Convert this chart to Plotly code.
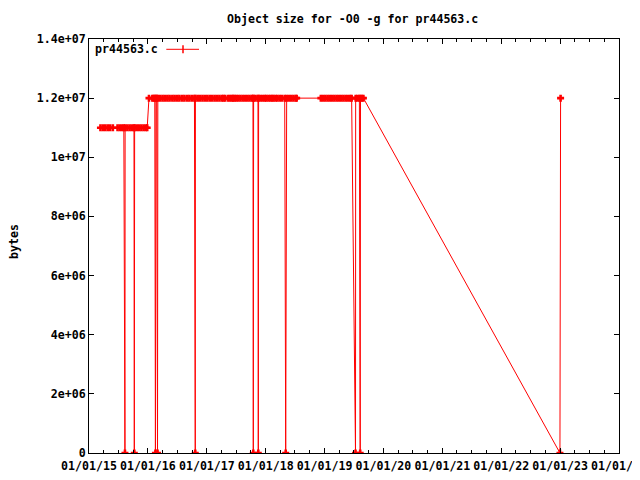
import plotly.graph_objects as go

# ---- data ----
dates = [
    "2015-03-13", "2015-03-28", "2015-04-12", "2015-04-27", "2015-05-12", "2015-05-29",
    "2015-06-27", "2015-07-11", "2015-07-25", "2015-08-05", "2015-08-12", "2015-08-13",
    "2015-08-27", "2015-09-10", "2015-09-24", "2015-10-07", "2015-10-09", "2015-10-11",
    "2015-10-25", "2015-11-08", "2015-11-22", "2015-12-06", "2015-12-20", "2015-12-28",
    "2016-01-08", "2016-01-29", "2016-02-06", "2016-02-13", "2016-02-17", "2016-02-20",
    "2016-02-25", "2016-03-01", "2016-03-03", "2016-03-17", "2016-04-01", "2016-04-15",
    "2016-05-01", "2016-05-15", "2016-06-01", "2016-06-15", "2016-07-01", "2016-07-15",
    "2016-08-01", "2016-08-15", "2016-09-01", "2016-09-15", "2016-10-01", "2016-10-16",
    "2016-10-21", "2016-10-22", "2016-11-05", "2016-11-20", "2016-12-05", "2016-12-20",
    "2017-01-04", "2017-01-19", "2017-02-03", "2017-02-18", "2017-03-05", "2017-03-20",
    "2017-04-04", "2017-04-14", "2017-04-24", "2017-05-12", "2017-05-24", "2017-06-05",
    "2017-06-13", "2017-06-21", "2017-07-02", "2017-07-14", "2017-07-28", "2017-08-11",
    "2017-08-25", "2017-09-08", "2017-09-22", "2017-10-06", "2017-10-14", "2017-10-16",
    "2017-10-18", "2017-10-30", "2017-11-14", "2017-11-16", "2017-11-18", "2017-12-01",
    "2017-12-15", "2017-12-27", "2018-01-05", "2018-01-18", "2018-01-30", "2018-02-10",
    "2018-02-19", "2018-03-04", "2018-03-15", "2018-03-29", "2018-04-12", "2018-04-29",
    "2018-05-05", "2018-05-11", "2018-05-25", "2018-06-08", "2018-06-22", "2018-07-06",
    "2018-07-12", "2018-12-09", "2018-12-23", "2019-01-06", "2019-01-20", "2019-02-03",
    "2019-02-17", "2019-03-03", "2019-03-17", "2019-03-31", "2019-04-14", "2019-04-28",
    "2019-05-12", "2019-05-26", "2019-06-09", "2019-06-18", "2019-07-12", "2019-07-13",
    "2019-07-24", "2019-08-05", "2019-08-10", "2019-08-12", "2019-08-21", "2019-08-30",
    "2022-12-31", "2023-01-04",
]
sizes = [
    1.1e7, 1.1e7, 1.1e7, 1.1e7, 1.1e7, 1.1e7,
    1.1e7, 1.1e7, 1.1e7, 1.1e7, 0, 1.1e7,
    1.1e7, 1.1e7, 1.1e7, 1.1e7, 0, 1.1e7,
    1.1e7, 1.1e7, 1.1e7, 1.1e7, 1.1e7, 1.1e7,
    1.2e7, 1.2e7, 1.2e7, 1.2e7, 0, 1.2e7,
    1.2e7, 0, 1.2e7, 1.2e7, 1.2e7, 1.2e7,
    1.2e7, 1.2e7, 1.2e7, 1.2e7, 1.2e7, 1.2e7,
    1.2e7, 1.2e7, 1.2e7, 1.2e7, 1.2e7, 1.2e7,
    0, 1.2e7, 1.2e7, 1.2e7, 1.2e7, 1.2e7,
    1.2e7, 1.2e7, 1.2e7, 1.2e7, 1.2e7, 1.2e7,
    1.2e7, 1.2e7, 1.2e7, 1.2e7, 1.2e7, 1.2e7,
    1.2e7, 1.2e7, 1.2e7, 1.2e7, 1.2e7, 1.2e7,
    1.2e7, 1.2e7, 1.2e7, 1.2e7, 1.2e7, 0,
    1.2e7, 1.2e7, 1.2e7, 0, 1.2e7, 1.2e7,
    1.2e7, 1.2e7, 1.2e7, 1.2e7, 1.2e7, 1.2e7,
    1.2e7, 1.2e7, 1.2e7, 1.2e7, 1.2e7, 1.2e7,
    0, 1.2e7, 1.2e7, 1.2e7, 1.2e7, 1.2e7,
    1.2e7, 1.2e7, 1.2e7, 1.2e7, 1.2e7, 1.2e7,
    1.2e7, 1.2e7, 1.2e7, 1.2e7, 1.2e7, 1.2e7,
    1.2e7, 1.2e7, 1.2e7, 1.2e7, 0, 1.2e7,
    1.2e7, 1.2e7, 0, 1.2e7, 1.2e7, 1.2e7,
    0, 1.2e7,
]

series_name = "pr44563.c"
title_text = "Object size for -O0 -g for pr44563.c"
y_tick_values = [0, 2e6, 4e6, 6e6, 8e6, 1e7, 1.2e7, 1.4e7]
y_tick_labels = ["0", "2e+06", "4e+06", "6e+06", "8e+06", "1e+07", "1.2e+07", "1.4e+07"]

RED = "#ff0000"
FONT = dict(family="DejaVu Sans Mono", size=11.6, color="black", weight="bold")

fig = go.Figure()
fig.add_trace(go.Scatter(
    x=dates, y=sizes, mode="lines+markers", name=series_name,
    line=dict(color=RED, width=1),
    marker=dict(symbol="cross-thin", size=5, color=RED,
                line=dict(color=RED, width=2.6)),
    showlegend=False,
))

# The page body has an 8px margin, so the figure sits at (8, 8) on screen;
# it is sized so it does not overflow the 640x480 window and the plot box
# lands at x 89..619, y 39..453 on screen.
fig.update_layout(
    width=632, height=472,
    margin=dict(l=81, r=21, t=31, b=27, pad=0, autoexpand=False),
    paper_bgcolor="white", plot_bgcolor="white",
    font=FONT,
    xaxis=dict(
        type="date", range=["2015-01-01", "2024-01-01 06:00"],
        tick0="2015-01-01", dtick="M12", tickformat="%m/%d/%y",
        ticks="inside", ticklen=5, tickcolor="black", tickwidth=1,
        showline=True, linecolor="black", linewidth=1, mirror="ticks",
        showgrid=False, zeroline=False, automargin=False,
        ticklabeloverflow="allow", ticklabelstandoff=2,
        minor=dict(dtick="M3", ticks="inside", ticklen=3, tickcolor="black", showgrid=False),
        tickfont=FONT,
    ),
    yaxis=dict(
        range=[0, 1.4e7], tickvals=y_tick_values, ticktext=y_tick_labels,
        ticks="inside", ticklen=5, tickcolor="black", tickwidth=1,
        showline=True, linecolor="black", linewidth=1, mirror="ticks",
        showgrid=False, zeroline=False, tickfont=FONT, automargin=False,
    ),
)

W, H = 530.0, 414.0
def px_x(p):
    return (p - 89) / W
def px_y(p):
    return (453 - p) / H

fig.add_annotation(text=title_text, xref="paper", yref="paper",
                   x=px_x(352), y=px_y(19), showarrow=False, font=FONT,
                   xanchor="center", yanchor="middle")
fig.add_annotation(text="bytes", xref="paper", yref="paper",
                   x=px_x(14), y=px_y(242), showarrow=False, font=FONT,
                   textangle=-90, xanchor="center", yanchor="middle")
# legend (text first, then sample, gnuplot style)
fig.add_annotation(text=series_name, xref="paper", yref="paper",
                   x=px_x(93), y=px_y(49.3), showarrow=False, font=FONT,
                   xanchor="left", yanchor="middle")
fig.add_shape(type="line", xref="paper", yref="paper",
              x0=px_x(166.3), x1=px_x(199), y0=px_y(49.3), y1=px_y(49.3),
              line=dict(color=RED, width=1))
fig.add_shape(type="line", xref="paper", yref="paper",
              x0=px_x(183), x1=px_x(183), y0=px_y(45.3), y1=px_y(53.3),
              line=dict(color=RED, width=1.5))

fig.write_html("out.html")
